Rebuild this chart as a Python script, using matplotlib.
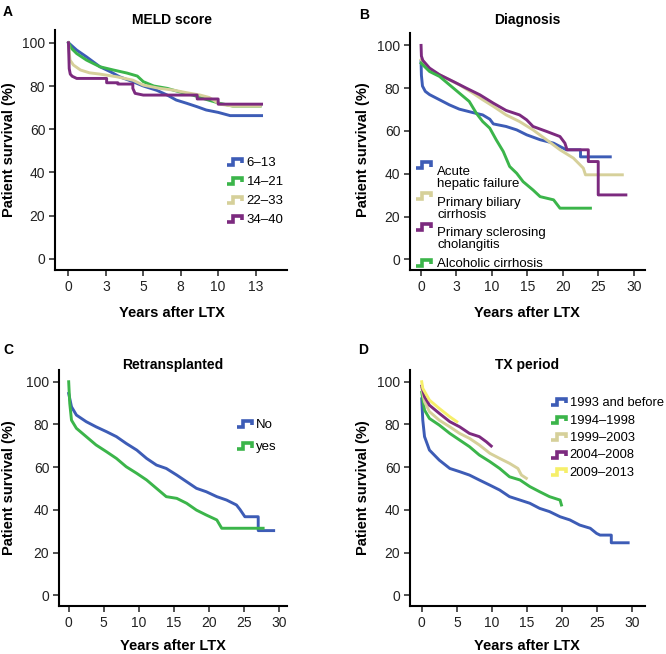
import numpy as np
import matplotlib
matplotlib.use('Agg')
import matplotlib.pyplot as plt
from matplotlib.legend_handler import HandlerBase
from matplotlib.lines import Line2D

plt.rcParams['font.family'] = ['Liberation Sans', 'DejaVu Sans']

BLUE = '#3d5cb6'
GREEN = '#3bb54a'
TAN = '#d6d09a'
PURPLE = '#7c2a7f'
YELLOW = '#f6ef6a'

# ---------------- Panel A: MELD score ----------------
meld_labels = ['6–13', '14–21', '22–33', '34–40']
meld_6_13_t = [0, 0.55, 1.2, 2.1, 2.8, 3.4, 4.3, 5.0, 5.9, 6.6, 7.2, 7.9, 8.6, 9.2, 10.0, 10.8, 12.9]
meld_6_13_s = [100, 96.6, 93.5, 88.9, 86.6, 84.3, 82, 80, 78, 75.8, 73.5, 72, 70.4, 68.9, 67.8, 66.3, 66.3]
meld_14_21_t = [0, 0.2, 0.55, 1.2, 2.1, 3.0, 3.9, 4.6, 5.0, 5.7, 6.6, 7.4, 8.3, 9.2, 10.1, 11.0, 12.8]
meld_14_21_s = [100, 97.4, 95, 92, 88.9, 87.4, 86, 84.6, 82, 80, 78.9, 77.3, 75.8, 73.8, 72, 70.7, 70.7]
meld_22_33_t = [0, 0.1, 0.33, 0.8, 1.4, 2.1, 3.2, 4.3, 5.0, 6.1, 7.0, 7.9, 8.8, 9.4, 10.1, 11.0, 12.8]
meld_22_33_s = [100, 92, 89.7, 87.4, 86.1, 85.5, 84.3, 82.7, 80.4, 78.9, 78.1, 76.9, 75.8, 74.7, 71.6, 70.7, 70.7]
meld_34_40_t = [0, 0.05, 0.12, 0.25, 0.55, 2.55, 2.55, 3.3, 3.3, 4.3, 4.3, 4.45, 5.0, 8.6, 8.6, 10.0, 10.0, 12.9]
meld_34_40_s = [100, 88, 85.5, 84.5, 83.5, 83.5, 81.5, 81.5, 80.9, 80.9, 78.9, 76.6, 75.8, 75.8, 74.0, 74.0, 71.6, 71.6]
meld_xticks = [0, 2.5, 5, 7.5, 10, 12.5]
meld_xticklabels = ['0', '3', '5', '8', '10', '13']

# ---------------- Panel B: Diagnosis ----------------
diag_labels = ['Acute\nhepatic failure', 'Primary biliary\ncirrhosis',
               'Primary sclerosing\ncholangitis', 'Alcoholic cirrhosis']
ahf_t = [0, 0.05, 0.2, 0.6, 1.2, 2.6, 4.0, 5.4, 7.3, 8.7, 9.7, 10.2, 12.0, 13.5, 14.9, 16.8, 18.7, 20.5, 22.5, 22.5, 26.7]
ahf_s = [92.5, 86, 81, 78.5, 77, 74.6, 72.2, 70.2, 68.6, 67.5, 65.5, 63.3, 62.1, 60.5, 58.2, 55.9, 54.3, 51.2, 51.2, 47.9, 47.9]
pbc_t = [0, 1.2, 2.6, 4.0, 5.4, 7.3, 8.7, 10.2, 12.0, 13.9, 15.8, 17.7, 19.6, 21.5, 22.9, 23.2, 28.4]
pbc_s = [93.3, 88.6, 86.3, 83.9, 81.6, 77.7, 74.6, 71.5, 67.5, 64.4, 60.5, 55.9, 51.2, 47.3, 42.6, 39.5, 39.5]
psc_t = [0, 0.05, 0.25, 1.2, 2.6, 4.5, 6.4, 8.3, 10.2, 12.0, 13.9, 14.9, 15.8, 17.7, 19.6, 20.3, 20.6, 23.6, 23.6, 25.0, 25.0, 28.9]
psc_s = [100, 95, 93, 89.4, 86.3, 83.2, 80, 76.9, 73, 69.6, 67.5, 65.2, 62.1, 59.8, 57.4, 54.3, 51.2, 51.2, 45.7, 45.7, 30.1, 30.1]
alc_t = [0, 1.2, 2.6, 4.0, 5.4, 6.8, 7.8, 8.7, 9.7, 10.6, 11.6, 12.5, 13.5, 14.4, 15.8, 16.8, 18.7, 19.6, 23.9]
alc_s = [91.7, 87.8, 85.5, 81.6, 77.7, 73.8, 68.3, 64.4, 61.3, 55.9, 50.4, 43.4, 40.2, 36.3, 32.4, 29.3, 27.8, 23.9, 23.9]
diag_xticks = [0, 5, 10, 15, 20, 25, 30]
diag_xticklabels = ['0', '3', '10', '15', '20', '25', '30']

# ---------------- Panel C: Retransplanted ----------------
retx_labels = ['No', 'yes']
retx_no_t = [0, 0.4, 1.1, 2.5, 3.9, 5.4, 6.8, 8.2, 9.7, 11.1, 12.5, 13.9, 15.4, 16.8, 18.2, 19.6, 21.1, 22.5, 23.9, 24.4, 25.1, 27.0, 27.0, 29.2]
retx_no_s = [94.5, 88.3, 84.4, 81.3, 78.9, 76.6, 74.3, 71.1, 68, 64.1, 61, 59.4, 56.3, 53.2, 50.1, 48.5, 46.2, 44.6, 42.3, 40.2, 36.8, 36.8, 30.3, 30.3]
retx_yes_t = [0, 0.15, 0.4, 1.1, 2.5, 3.9, 5.4, 6.8, 8.2, 9.7, 11.1, 12.5, 13.9, 15.4, 16.8, 18.2, 19.6, 21.1, 21.8, 27.7]
retx_yes_s = [100, 89.9, 82, 78.2, 74.3, 70.4, 67.2, 64.1, 60.2, 57.1, 54, 50.1, 46.2, 45.4, 43.1, 39.9, 37.6, 35.3, 31.4, 31.4]
c_xticks = [0, 5, 10, 15, 20, 25, 30]

# ---------------- Panel D: TX period ----------------
period_labels = ['1993 and before', '1994–1998', '1999–2003', '2004–2008', '2009–2013']
p1993_t = [0, 0.15, 0.4, 1.1, 2.5, 4.0, 5.4, 6.8, 8.2, 9.7, 11.1, 12.5, 14.0, 15.4, 16.8, 18.2, 19.7, 21.1, 22.5, 24.0, 24.9, 25.4, 27.0, 27.0, 29.4]
p1993_s = [92, 82, 74.3, 68, 63.3, 59.4, 57.9, 56.3, 54, 51.6, 49.3, 46.2, 44.6, 43.1, 40.7, 39.2, 36.8, 35.3, 32.9, 31.4, 29, 28.2, 28.2, 24.6, 24.6]
p1994_t = [0, 0.4, 1.1, 2.5, 4.0, 5.4, 6.8, 8.2, 9.7, 11.1, 12.5, 14.0, 15.4, 16.8, 18.2, 19.7, 19.9]
p1994_s = [95, 86.7, 82.8, 79.7, 75.8, 72.7, 69.6, 65.7, 62.6, 59.4, 55.5, 54, 50.9, 48.5, 46.2, 44.6, 42.3]
p1999_t = [0, 0.4, 1.1, 2.5, 4.0, 5.4, 6.8, 8.2, 9.7, 11.1, 12.5, 13.7, 14.2, 14.9]
p1999_s = [97, 90.6, 86, 82, 78.9, 75.8, 73.5, 70.4, 66.5, 64.1, 61.8, 59.4, 56.3, 54.8]
p2004_t = [0, 0.4, 1.1, 2.5, 4.0, 5.4, 6.8, 8.2, 9.2, 9.9]
p2004_s = [98, 93, 89, 85.2, 81.3, 78.9, 75.8, 74.3, 71.9, 69.9]
p2009_t = [0, 0.15, 1.1, 2.5, 4.0, 5.0]
p2009_s = [100, 96.9, 91.4, 87.5, 83.6, 81.3]
d_xticks = [0, 5, 10, 15, 20, 25, 30]

yticks = [0, 20, 40, 60, 80, 100]

W, H = 666, 654
fig = plt.figure(figsize=(W / 100, H / 100), dpi=100)


def ax_at(l, t, r, b):
    return fig.add_axes([l / W, 1 - b / H, (r - l) / W, (b - t) / H])


class StepHandler(HandlerBase):
    def __init__(self, yoff=0.0, **kw):
        super().__init__(**kw)
        self.yoff = yoff

    def create_artists(self, legend, orig_handle, xdescent, ydescent,
                       width, height, fontsize, trans):
        x = np.array([0, 0.4, 0.4, 1.0, 1.0]) * width - xdescent
        y = np.array([0.1, 0.1, 0.75, 0.75, 0.3]) * height - ydescent + self.yoff * fontsize
        ln = Line2D(x, y, color=orig_handle.get_color(), lw=2.6,
                    solid_joinstyle='miter', solid_capstyle='butt')
        ln.set_transform(trans)
        return [ln]


def style(ax, xlim, ylim, xticks, xticklabels):
    for s in ['top', 'right']:
        ax.spines[s].set_visible(False)
    for s in ['left', 'bottom']:
        ax.spines[s].set_linewidth(1.5)
    ax.set_xlim(*xlim)
    ax.set_ylim(*ylim)
    ax.set_xticks(xticks)
    ax.set_xticklabels(xticklabels)
    ax.set_yticks(yticks)
    ax.tick_params(axis='both', length=4, width=1.1, labelsize=10, pad=3,
                   colors='#222222')


def finish(ax, title, letter, lx, ly, tx, ty, ylx, yly, xlx, xly):
    fig.text(tx / W, 1 - ty / H, title, ha='center', va='baseline',
             fontsize=10, fontweight='bold')
    fig.text(lx / W, 1 - ly / H, letter, ha='left', va='top',
             fontsize=10, fontweight='bold')
    fig.text(ylx / W, 1 - yly / H, 'Patient survival (%)', rotation=90,
             ha='center', va='center', fontsize=10.5, fontweight='bold')
    fig.text(xlx / W, 1 - xly / H, 'Years after LTX', ha='center', va='center',
             fontsize=10.5, fontweight='bold')


LW = 2.1

# Panel A
axA = ax_at(55, 30, 287, 270)
hA = []
for t, s, c, lab in [(meld_6_13_t, meld_6_13_s, BLUE, meld_labels[0]),
                     (meld_14_21_t, meld_14_21_s, GREEN, meld_labels[1]),
                     (meld_22_33_t, meld_22_33_s, TAN, meld_labels[2]),
                     (meld_34_40_t, meld_34_40_s, PURPLE, meld_labels[3])]:
    hA.append(axA.plot(t, s, color=c, lw=LW, label=lab)[0])
style(axA, (-0.9, 14.6), (-5.1, 105.9), meld_xticks, meld_xticklabels)
legA = axA.legend(handles=hA, loc='upper left', bbox_to_anchor=(227 / W, 1 - 157 / H),
                  bbox_transform=fig.transFigure, frameon=False, fontsize=9.5,
                  handlelength=1.15, handletextpad=0.35, labelspacing=0.5,
                  borderpad=0, borderaxespad=0,
                  handler_map={Line2D: StepHandler()})
finish(axA, 'MELD score', 'A', 3, 5, 172, 24, 9, 150, 172, 313)

# Panel B
axB = ax_at(410, 33, 645, 270)
hB = []
for t, s, c, lab in [(ahf_t, ahf_s, BLUE, diag_labels[0]),
                     (pbc_t, pbc_s, TAN, diag_labels[1]),
                     (psc_t, psc_s, PURPLE, diag_labels[2]),
                     (alc_t, alc_s, GREEN, diag_labels[3])]:
    hB.append(axB.plot(t, s, color=c, lw=LW, label=lab)[0])
style(axB, (-1.56, 31.6), (-5, 105.8), diag_xticks, diag_xticklabels)
hmapB = {hB[0]: StepHandler(yoff=1.0), hB[1]: StepHandler(yoff=1.0),
         hB[2]: StepHandler(yoff=1.0), hB[3]: StepHandler()}
legB = axB.legend(handles=hB, loc='upper left', bbox_to_anchor=(416 / W, 1 - 166 / H),
                  bbox_transform=fig.transFigure, frameon=False, fontsize=9.5,
                  handlelength=1.15, handletextpad=0.45, labelspacing=0.5,
                  borderpad=0, borderaxespad=0, handler_map=hmapB)
for txt in legB.get_texts():
    txt.set_linespacing(1.0)
finish(axB, 'Diagnosis', 'B', 359, 8, 527, 24, 363, 150, 527, 313)

# Panel C
axC = ax_at(59, 370, 287, 606)
hC = []
for t, s, c, lab in [(retx_no_t, retx_no_s, BLUE, retx_labels[0]),
                     (retx_yes_t, retx_yes_s, GREEN, retx_labels[1])]:
    hC.append(axC.plot(t, s, color=c, lw=LW, label=lab)[0])
style(axC, (-1.38, 31.1), (-5, 105.5), c_xticks, [str(v) for v in c_xticks])
legC = axC.legend(handles=hC, loc='upper left', bbox_to_anchor=(237 / W, 1 - 419 / H),
                  bbox_transform=fig.transFigure, frameon=False, fontsize=9.5,
                  handlelength=1.15, handletextpad=0.3, labelspacing=0.75,
                  borderpad=0, borderaxespad=0,
                  handler_map={Line2D: StepHandler()})
finish(axC, 'Retransplanted', 'C', 3, 343, 173, 369, 9, 488, 173, 646)

# Panel D
axD = ax_at(410, 370, 645, 606)
hD = []
for t, s, c, lab in [(p1993_t, p1993_s, BLUE, period_labels[0]),
                     (p1994_t, p1994_s, GREEN, period_labels[1]),
                     (p1999_t, p1999_s, TAN, period_labels[2]),
                     (p2004_t, p2004_s, PURPLE, period_labels[3]),
                     (p2009_t, p2009_s, YELLOW, period_labels[4])]:
    hD.append(axD.plot(t, s, color=c, lw=LW, label=lab)[0])
style(axD, (-1.67, 31.8), (-5, 105.5), d_xticks, [str(v) for v in d_xticks])
legD = axD.legend(handles=hD, loc='upper left', bbox_to_anchor=(551 / W, 1 - 397 / H),
                  bbox_transform=fig.transFigure, frameon=False, fontsize=9.3,
                  handlelength=1.15, handletextpad=0.3, labelspacing=0.42,
                  borderpad=0, borderaxespad=0,
                  handler_map={Line2D: StepHandler()})
finish(axD, 'TX period', 'D', 358, 343, 527, 369, 363, 488, 527, 646)

fig.savefig('out.png', dpi=100)
